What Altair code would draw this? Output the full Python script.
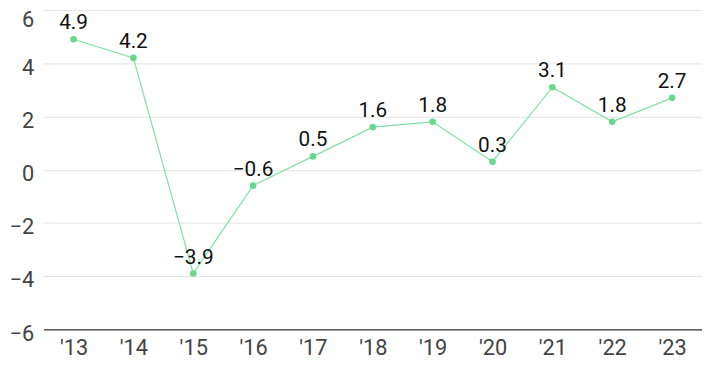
import altair as alt
import pandas as pd

years = ["'13", "'14", "'15", "'16", "'17", "'18", "'19", "'20", "'21", "'22", "'23"]
values = [4.9, 4.2, -3.9, -0.6, 0.5, 1.6, 1.8, 0.3, 3.1, 1.8, 2.7]
labels = ["4.9", "4.2", "−3.9", "−0.6", "0.5", "1.6", "1.8", "0.3", "3.1", "1.8", "2.7"]

df = pd.DataFrame({"year": years, "value": values, "label": labels})

x = alt.X("year:N", sort=years, title=None,
          scale=alt.Scale(type="point", padding=0.5),
          axis=alt.Axis(labelAngle=0, labelFontSize=22, labelColor="#444444",
                        labelFont="Roboto", labelPadding=8, ticks=False,
                        domain=True, domainColor="#333333", domainWidth=1.2, grid=False))
y = alt.Y("value:Q", title=None,
          scale=alt.Scale(domain=[-6, 6], nice=False),
          axis=alt.Axis(values=[-6, -4, -2, 0, 2, 4, 6], labelFontSize=22,
                        labelColor="#444444", labelFont="Roboto", labelPadding=10,
                        labelOffset={"condition": {"test": "datum.value == 6", "value": 10}, "value": 4},
                        ticks=False, domain=False, gridColor="#e3e3e3",
                        labelExpr="datum.value < 0 ? '−' + abs(datum.value) : datum.label"))

base = alt.Chart(df).encode(x=x, y=y)

line = base.mark_line(color="#7fe0a2", strokeWidth=1.2)
pts = base.mark_circle(color="#66d98f", size=45, opacity=1)
txt = base.mark_text(dy=-16, fontSize=21, font="Roboto", color="#111111").encode(text="label:N")

chart = (line + pts + txt).properties(
    width=666, height=323,
    autosize=alt.AutoSizeParams(type="none"),
    padding={"left": 36, "top": 0, "right": 0, "bottom": 32},
).configure_view(stroke=None)

chart.save("out.html", embed_options={"renderer": "svg", "actions": False})
